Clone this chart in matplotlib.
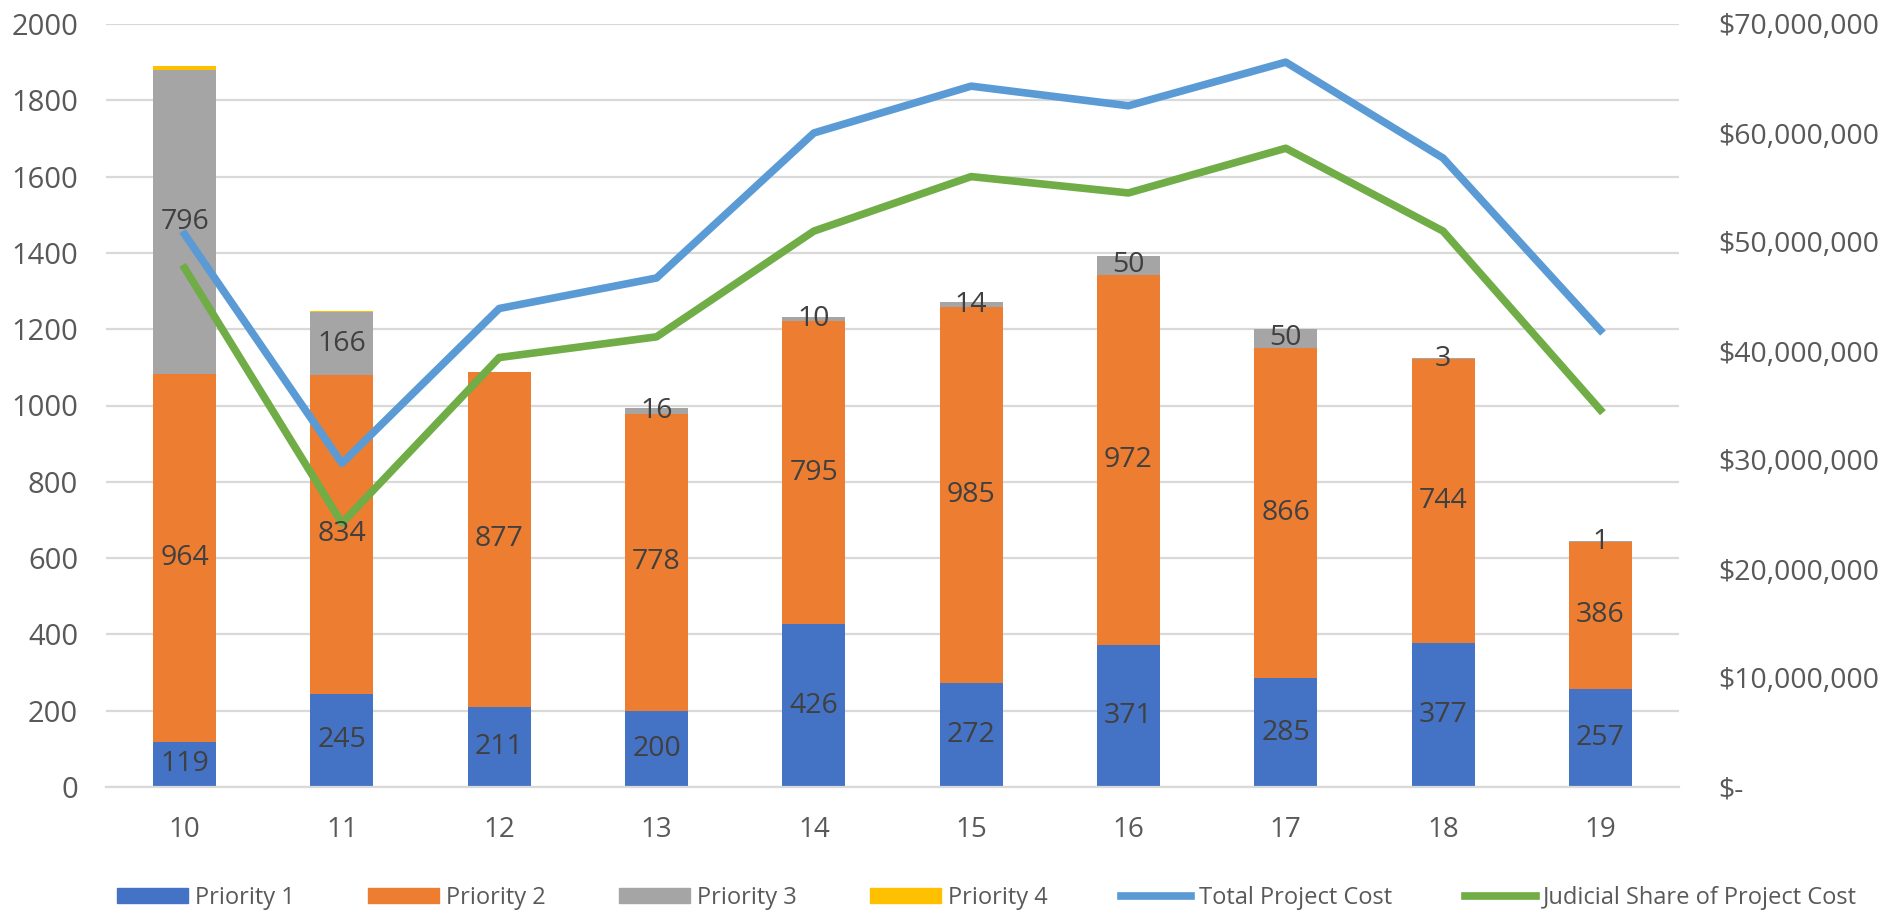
import matplotlib
matplotlib.use("Agg")
import matplotlib.pyplot as plt
from matplotlib.ticker import FuncFormatter, MultipleLocator
from matplotlib.patches import Patch
from matplotlib.lines import Line2D

plt.rcParams['font.family'] = ['Open Sans', 'DejaVu Sans']

categories = ['10', '11', '12', '13', '14', '15', '16', '17', '18', '19']
priority1 = [119, 245, 211, 200, 426, 272, 371, 285, 377, 257]
priority2 = [964, 834, 877, 778, 795, 985, 972, 866, 744, 386]
priority3 = [796, 166, 0, 16, 10, 14, 50, 50, 3, 1]
priority4 = [12, 4, 0, 0, 0, 0, 0, 0, 0, 0]
total_cost = [50.7e6, 29.7e6, 43.9e6, 46.7e6, 60.0e6, 64.3e6, 62.5e6, 66.5e6, 57.7e6, 41.9e6]
judicial_cost = [47.6e6, 24.2e6, 39.4e6, 41.3e6, 51.0e6, 56.0e6, 54.5e6, 58.6e6, 51.0e6, 34.6e6]

C1, C2, C3, C4 = '#4472C4', '#ED7D31', '#A5A5A5', '#FFC000'
CT, CJ = '#5B9BD5', '#70AD47'
TXT = '#595959'
LBL = '#404040'
GRID = '#D9D9D9'

fig = plt.figure(figsize=(18.85, 9.16), dpi=100)
ax = fig.add_axes([106/1885, 129/916, (1679-106)/1885, (787-24)/916])
ax2 = ax.twinx()

x = list(range(len(categories)))
w = 0.4
b2 = priority1
b3 = [a+b for a, b in zip(priority1, priority2)]
b4 = [a+b for a, b in zip(b3, priority3)]
ax.bar(x, priority1, w, color=C1, zorder=2)
ax.bar(x, priority2, w, bottom=b2, color=C2, zorder=2)
ax.bar(x, priority3, w, bottom=b3, color=C3, zorder=2)
ax.bar(x, priority4, w, bottom=b4, color=C4, zorder=2)

ax.set_xlim(-0.5, len(x)-0.5)
ax.set_ylim(0, 2000)
ax.yaxis.set_major_locator(MultipleLocator(200))
ax.grid(axis='y', color=GRID, linewidth=1.6, zorder=0)
ax.set_axisbelow(True)
for s in ['top', 'left', 'right']:
    ax.spines[s].set_visible(False)
ax.spines['bottom'].set_color(GRID)
ax.spines['bottom'].set_linewidth(1.6)
ax.set_xticks(x)
ax.set_xticklabels(categories)
ax.tick_params(axis='x', length=0, pad=21, labelsize=20, labelcolor=TXT)
ax.tick_params(axis='y', length=0, pad=20, labelsize=21, labelcolor=TXT)

ax2.plot(x, total_cost, color=CT, linewidth=5.5, solid_joinstyle='round', zorder=3)
ax2.plot(x, judicial_cost, color=CJ, linewidth=5.5, solid_joinstyle='round', zorder=3)
ax2.set_ylim(0, 70e6)
ax2.yaxis.set_major_locator(MultipleLocator(10e6))
ax2.yaxis.set_major_formatter(FuncFormatter(lambda v, p: '$-' if v == 0 else '${:,.0f}'.format(v)))
ax2.tick_params(axis='y', length=0, pad=28, labelsize=20.5, labelcolor=TXT)
for s in ax2.spines.values():
    s.set_visible(False)

# data labels (drawn on top of lines)
for i in x:
    for val, bot in ((priority1[i], 0), (priority2[i], b2[i]), (priority3[i], b3[i])):
        if val > 0:
            ax2.text(i, bot + val/2, str(val), transform=ax.transData, ha='center', va='center',
                     fontsize=20.5, color=LBL, zorder=5)

handles = [Patch(color=C1), Patch(color=C2), Patch(color=C3), Patch(color=C4),
           Line2D([], [], color=CT, linewidth=5.5), Line2D([], [], color=CJ, linewidth=5.5)]
labels = ['Priority 1', 'Priority 2', 'Priority 3', 'Priority 4', 'Total Project Cost',
          'Judicial Share of Project Cost']
leg = fig.legend(handles, labels, loc='center', bbox_to_anchor=(987/1885, 1-898/916), ncol=6,
                 frameon=False, fontsize=17, handlelength=3.0, handleheight=0.6, handletextpad=0.3,
                 columnspacing=3.1, labelcolor=TXT)

fig.savefig('out.png', dpi=100)
